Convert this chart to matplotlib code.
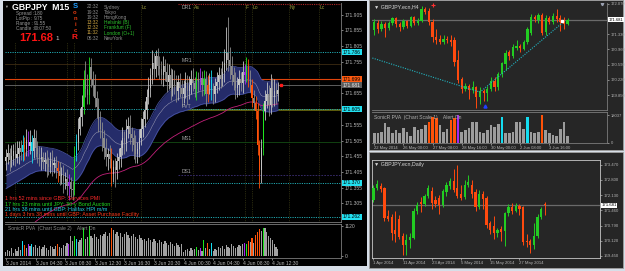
"""MT4 workspace: GBPJPY M15 Sonic R chart with H4 and Daily windows on the right."""

import numpy as np
import matplotlib
matplotlib.use("Agg")
import matplotlib.pyplot as plt
from matplotlib.patches import Rectangle
from matplotlib.transforms import blended_transform_factory

plt.rcParams["font.family"] = ["Liberation Sans", "DejaVu Sans"]

W, H = 625, 271

# ---------------- M15 window (price = 171 + value / 1000)
m15_open0 = 440
m15_close = [
    452, 464, 442, 457, 472, 450, 462, 482, 467,
    492, 477, 507, 487, 500, 472, 512, 482,
    462, 447, 452, 437, 444, 430, 422, 440, 427, 432, 417,
    407, 392, 400, 377, 382, 362, 372, 352, 347,
    459,
    500, 540, 580, 610, 697, 670, 650,
    738, 700, 680, 640, 610, 570, 540, 512,
    482, 452, 462, 447, 400, 420, 412, 440,
    452, 482, 512, 497, 542, 552, 527, 512,
    492, 462, 477, 512, 542, 572,
    602, 642, 672, 712, 752, 732, 772, 742,
    732, 712, 742, 722, 692, 712, 672, 702, 682, 662, 692, 672, 652,
    672, 692, 662, 682, 702, 687, 670, 700, 690, 705, 680,
    700, 652, 682, 697, 667, 652, 677, 692, 712, 702,
    722, 752, 782, 762, 742,
    712, 692, 672, 682, 702, 687, 722, 712, 740,
    700, 680, 640, 625, 600, 490,
    410, 480, 600,
    632, 652, 617, 672, 642, 662, 652, 667,
]
m15_wick_up = [
    25, 30, 18, 35, 22, 28, 40, 20, 26,
    30, 24, 35, 28, 38, 22, 30, 27,
    20, 26, 33, 18, 24, 30, 22, 28, 35, 19, 25,
    24, 30, 20, 28, 22, 34, 26, 18, 25,
    30,
    25, 35, 28, 40, 32, 60, 45,
    32, 30, 25, 35, 22, 30, 28, 24,
    26, 32, 20, 28, 35, 22, 30, 25,
    28, 24, 36, 22, 30, 27, 33, 20,
    25, 30, 22, 28, 35, 26,
    30, 28, 35, 24, 40, 30, 20, 28,
    30, 25, 33, 22, 28, 35, 24, 30, 26, 32, 22, 28, 25,
    24, 30, 22, 28, 26, 32, 20, 27, 24, 30, 22,
    28, 25, 30, 24, 32, 22, 26, 30, 28, 24,
    35, 45, 83, 115, 40,
    30, 26, 32, 24, 28, 22, 35, 25, 30,
    24, 28, 22, 26, 20, 24,
    18, 30, 25,
    35, 40, 28, 45, 32, 38, 26, 24,
]
m15_wick_dn = [
    28, 22, 35, 20, 30, 25, 18, 32, 24,
    26, 34, 22, 30, 25, 38, 24, 28,
    30, 24, 36, 22, 28, 40, 26, 20, 34, 25, 30,
    35, 28, 24, 38, 26, 30, 45, 28, 32,
    15,
    20, 24, 18, 30, 22, 26, 28,
    30, 25, 35, 28, 32, 38, 26, 40,
    35, 28, 42, 30, 38, 26, 55, 30,
    24, 30, 22, 35, 26, 28, 32, 40,
    45, 30, 28, 24, 22, 26,
    24, 28, 22, 30, 26, 32, 24, 28,
    30, 26, 35, 28, 32, 24, 38, 26, 30, 34, 28, 30, 36,
    28, 32, 40, 26, 30, 24, 28, 35, 30, 26, 32,
    30, 36, 25, 28, 34, 30, 26, 22, 28, 30,
    25, 30, 22, 35, 40,
    30, 26, 35, 28, 32, 24, 30, 26, 22,
    26, 22, 30, 24, 28, 30,
    56, 40, 20,
    30, 25, 35, 28, 30, 26, 32, 22,
]
m15_volume = [
    150, 220, 190, 300, 110, 260, 190, 330, 220,
    560, 410, 300, 450, 370, 450, 330, 410,
    300, 370, 260, 330, 410, 300, 220, 370, 330, 260, 370,
    450, 330, 300, 410, 370, 480, 450, 740, 560,
    740, 630, 520, 600, 670, 1050, 630, 700,
    1120, 740, 670, 820, 700, 630, 780, 740,
    820, 890, 740, 850, 1040, 960, 820, 890,
    740, 850, 700, 820, 890, 780, 670, 740, 820, 700, 630, 780, 670, 600,
    630, 560, 670, 600, 520, 630, 560, 480, 600, 520, 450, 560, 480, 410,
    520, 450, 370, 480, 410, 330, 450,
    150, 220, 260, 180, 300, 220, 260,
    330, 220, 300, 190, 600, 300, 480, 260, 480,
    190, 260, 220, 330, 300, 370, 260, 410, 330, 300, 450, 370, 300, 330,
    410, 370, 450,
    480, 450, 560, 520, 670, 480, 780, 890, 1000, 930, 1040, 1040, 890, 740,
    670, 600, 450, 330, 260,
]
m15_pva = {9: "c", 10: "o", 12: "m", 14: "c", 28: "o", 34: "m", 37: "g", 38: "c",
           42: "g", 45: "g", 57: "o", 103: "g", 105: "m", 107: "g", 109: "o",
           111: "c", 129: "m", 130: "g", 131: "o", 133: "o", 135: "o", 136: "o",
           137: "o", 139: "g"}
m15_tick_bars = [0, 16, 32, 48, 64, 80, 96, 112, 128, 144]
m15_tick_labels = ["3 Jun 2014", "3 Jun 04:30", "3 Jun 08:30", "3 Jun 12:30",
                   "3 Jun 16:30", "3 Jun 20:30", "4 Jun 00:30", "4 Jun 04:30",
                   "4 Jun 08:30", "4 Jun 12:30"]
m15_price_ticks = [171.305, 171.355, 171.405, 171.455, 171.505, 171.555, 171.655,
                   171.755, 171.805, 171.855, 171.905]
session_bars = [5, 33, 37, 57, 73, 101, 129, 133, 153, 169]
session_names = ["As", "F", "Lo", "Ny", "Lc", "As", "F", "Lo", "Ny", "Lc"]
dragon_seed = [427, 348, 389]      # EMA34 of high, low, close before the first bar
trend_seed = 140                   # EMA89 before the first bar
pivot_names = ["DR1", "MR1", "PVT", "MS1", "DS1"]
pivot_prices = [171.938, 171.748, 171.602, 171.500, 171.395]
cyan_levels = [171.786, 171.605, 171.370, 171.262]
ask_price = 171.699
bid_price = 171.681

info_labels = ["Spread :", "LotPip :", "Range :", "Candle :"]
info_values = ["1.80", "9.75", "91.55", "00:07:50"]
session_times = ["22:32", "19:32", "19:32", "13:32", "12:32", "11:32", "06:32"]
session_cities = ["Sydney", "Tokyo", "HongKong", "Helsinki (B)", "Frankfurt (F)",
                  "London (O+1)", "NewYork"]
session_open = [0, 0, 0, 1, 1, 1, 0]
news_lines = ["1 hrs 52 mins since GBP: Services PMI",
              "17 hrs 23 mins until JPY: 30-y Bond Auction",
              "21 hrs 38 mins until GBP: Halifax HPI m/m",
              "1 days 3 hrs 38 mins until GBP: Asset Purchase Facility"]

# ---------------- H4 window
h4_open = [171.43, 171.60, 171.45, 171.58, 171.48, 171.60, 171.72, 171.58, 171.50, 171.64,
           171.54, 171.74, 171.60, 171.66, 171.95, 171.90, 171.62, 171.25, 171.22, 171.15,
           171.22, 171.20, 171.18, 170.70, 170.25, 170.00, 170.08, 169.98, 170.05, 169.80,
           169.95, 169.90, 170.00, 170.20, 170.05, 170.35, 170.60, 170.90, 170.80, 171.00,
           171.05, 170.98, 171.15, 171.35, 171.75, 171.68, 171.80, 171.38, 171.72, 171.62,
           171.78, 171.72, 171.62, 171.58]
h4_high = [171.70, 171.68, 171.65, 171.62, 171.66, 171.76, 171.75, 171.62, 171.70, 171.68,
           171.78, 171.78, 171.72, 172.02, 172.00, 171.96, 171.70, 171.45, 171.30, 171.30,
           171.28, 171.30, 171.25, 170.95, 170.30, 170.15, 170.12, 170.20, 170.08, 170.05,
           170.00, 170.08, 170.30, 170.28, 170.40, 170.66, 170.95, 170.95, 171.08, 171.20,
           171.10, 171.20, 171.50, 171.82, 171.80, 171.84, 171.84, 171.80, 171.78, 171.84,
           171.95, 171.80, 171.75, 171.72]
h4_low = [171.30, 171.35, 171.40, 171.26, 171.44, 171.55, 171.50, 171.40, 171.46, 171.48,
          171.50, 171.55, 171.56, 171.62, 171.82, 171.55, 171.15, 171.10, 171.10, 171.08,
          171.12, 171.05, 170.55, 170.15, 169.90, 169.95, 169.75, 169.90, 169.53, 169.62,
          169.70, 169.70, 169.95, 169.95, 169.98, 170.30, 170.45, 170.70, 170.75, 170.95,
          170.90, 170.95, 171.10, 171.30, 171.62, 171.60, 171.30, 171.32, 171.58, 171.58,
          171.62, 171.40, 171.45, 171.55]
h4_close = [171.63, 171.45, 171.58, 171.48, 171.60, 171.72, 171.58, 171.50, 171.64, 171.54,
            171.74, 171.60, 171.66, 171.95, 171.88, 171.62, 171.25, 171.20, 171.15, 171.22,
            171.18, 171.14, 170.65, 170.22, 170.00, 170.08, 169.98, 170.05, 169.80, 169.95,
            169.90, 170.00, 170.20, 170.05, 170.35, 170.62, 170.88, 170.80, 171.02, 171.05,
            171.00, 171.15, 171.45, 171.75, 171.70, 171.80, 171.35, 171.72, 171.62, 171.78,
            171.70, 171.62, 171.58, 171.68]
h4_volume = [6400, 6300, 7000, 12700, 10600, 6400, 8500, 6400, 9500, 7400,
             4200, 10600, 8500, 9000, 11700, 13800, 17000, 15900, 11700, 7400,
             9000, 14800, 15900, 18000, 7400, 8500, 9500, 13800, 13800, 7400,
             6400, 8500, 11700, 10600, 12000, 17000, 6400, 6400, 7400, 13800,
             13800, 9000, 17000, 7400, 6400, 7400, 18000, 8500, 6400, 5300,
             4200, 9000, 13800, 4200]
h4_pva = {15: "o", 16: "o", 17: "o", 21: "o", 22: "o", 23: "m", 35: "c", 42: "c", 46: "o"}
h4_trend_bars = [-0.5, 29, 51.5]
h4_trend_prices = [170.75, 169.92, 171.60]
h4_tick_bars = [0, 8, 16, 24, 32, 40, 48]
h4_tick_labels = ["22 May 2014", "26 May 00:00", "27 May 08:00", "28 May 16:00",
                  "30 May 00:00", "2 Jun 08:00", "3 Jun 16:00"]
h4_price_ticks = [169.85, 170.22, 170.59, 170.96, 171.33, 172.07]

# ---------------- Daily window
d1_open = [171.92, 172.45, 172.55, 172.45, 171.20, 171.17, 170.60, 171.10, 170.35, 169.93,
           170.16, 170.25, 171.45, 171.85, 171.75, 172.10, 172.30, 171.90, 172.00, 171.70,
           172.25, 172.55, 172.75, 172.45, 172.20, 172.05, 172.60, 172.60, 172.25, 171.60,
           172.20, 172.00, 170.90, 170.75, 170.45, 170.65, 170.55, 171.35, 171.60, 171.45,
           171.65, 171.60, 170.10, 170.10, 169.95, 170.35, 171.15, 171.75]
d1_high = [172.60, 172.82, 172.65, 172.50, 171.48, 171.30, 171.45, 171.25, 170.45, 170.40,
           170.45, 171.55, 171.85, 172.05, 172.20, 172.60, 172.50, 172.10, 172.15, 172.40,
           172.70, 172.90, 173.30, 173.45, 172.60, 172.80, 173.00, 172.80, 172.40, 172.35,
           172.30, 172.10, 171.00, 171.20, 170.70, 170.75, 171.40, 171.75, 171.80, 171.80,
           171.75, 171.65, 170.40, 170.20, 170.90, 171.30, 171.60, 171.85]
d1_low = [171.85, 172.35, 172.25, 171.00, 171.00, 170.16, 170.05, 170.20, 169.49, 169.50,
          169.80, 170.20, 171.30, 171.40, 171.65, 172.00, 171.50, 171.60, 171.30, 171.60,
          172.10, 172.40, 172.25, 172.00, 171.90, 171.95, 172.50, 172.00, 171.45, 171.50,
          171.50, 170.70, 170.40, 170.20, 170.30, 170.10, 169.90, 171.20, 171.30, 171.40,
          171.25, 169.95, 169.85, 169.60, 169.75, 170.25, 171.10, 171.25]
d1_close = [172.45, 172.62, 172.40, 171.13, 171.10, 170.46, 170.40, 170.30, 169.93, 170.16,
            170.30, 171.45, 171.70, 171.75, 172.10, 172.45, 171.80, 171.75, 171.70, 172.30,
            172.60, 172.75, 172.35, 172.10, 172.00, 172.60, 172.72, 172.20, 171.60, 172.20,
            171.95, 170.80, 170.60, 170.45, 170.60, 170.50, 171.35, 171.60, 171.45, 171.65,
            171.50, 170.07, 170.05, 169.95, 170.35, 171.15, 171.50, 171.68]
d1_tick_bars = [0, 8, 16, 24, 32, 40]
d1_tick_labels = ["1 Apr 2014", "11 Apr 2014", "23 Apr 2014", "5 May 2014",
                  "15 May 2014", "27 May 2014"]
d1_price_ticks = [169.45, 170.12, 170.79, 171.46, 172.13, 172.80, 173.47]

PVA = {"g": "#1ee61e", "o": "#ff5208", "c": "#14dcf0", "m": "#a428f0"}
BULL, BEAR = "#22cc22", "#ff4a0e"
TICK = "#b4b4b4"
DARK = "#262626"

fig = plt.figure(figsize=(W / 100, H / 100), dpi=100, facecolor="#d7dee8")


def rect_px(x0, y0, x1, y1, fc, ec="none", lw=0.0):
    fig.patches.append(Rectangle((x0 / W, 1 - y1 / H), (x1 - x0) / W, (y1 - y0) / H,
                                 transform=fig.transFigure, fc=fc, ec=ec, lw=lw, zorder=-5))


def axes_px(x0, y0, x1, y1, fc, fs=3.6):
    ax = fig.add_axes([x0 / W, 1 - y1 / H, (x1 - x0) / W, (y1 - y0) / H])
    ax.set_facecolor(fc)
    for s in ax.spines.values():
        s.set_visible(False)
        s.set_color("#7c7c7c")
        s.set_linewidth(0.6)
    ax.tick_params(colors=TICK, labelsize=fs, length=1.5, width=0.5, pad=1)
    return ax


def text_px(x, y, s, **kw):
    kw.setdefault("va", "center")
    kw.setdefault("ha", "left")
    return fig.text(x / W, 1 - y / H, s, **kw)


def candles(ax, o, hi, lo, c, colors, width, lw=0.6, min_body=0.0):
    x = np.arange(len(c))
    ax.vlines(x, lo, hi, colors=colors, lw=lw, zorder=3)
    body = np.maximum(np.abs(c - o), min_body)
    ax.bar(x, body, width, bottom=np.minimum(o, c), color=colors, linewidth=0, zorder=4)


def ema(values, period, seed):
    k = 2.0 / (period + 1)
    out, prev = [], seed
    for v in values:
        prev = prev + k * (v - prev)
        out.append(prev)
    return np.array(out)


def price_box(ax, price, fc, tc="black", fs=3.6):
    tr = blended_transform_factory(ax.transAxes, ax.transData)
    ax.text(1.006, price, f"{price:.3f}", transform=tr, fontsize=fs, color=tc,
            va="center", ha="left", clip_on=False, zorder=10,
            bbox=dict(boxstyle="square,pad=0.15", fc=fc, ec="none"))


def right_ticks(ax, ticks, fmt="%.3f"):
    ax.yaxis.tick_right()
    ax.set_yticks(ticks)
    ax.yaxis.set_major_formatter(matplotlib.ticker.FormatStrFormatter(fmt))


def bottom_ticks(ax, bars, labels):
    ax.set_xticks(bars)
    ax.set_xticklabels(labels)
    for t in ax.get_xticklabels():
        t.set_horizontalalignment("left")


# ---------------- window frames
rect_px(3, 1, 367, 266, "black")
rect_px(369, 0, 623, 150, DARK, ec="#a0a0a0", lw=0.6)
rect_px(369, 152, 623, 268, DARK, ec="#a0a0a0", lw=0.6)

# ---------------- M15 price
c = 171 + np.array(m15_close) / 1000
o = np.concatenate([[171 + m15_open0 / 1000], c[:-1]])
hi = np.maximum(o, c) + np.array(m15_wick_up) / 1000
lo = np.minimum(o, c) - np.array(m15_wick_dn) / 1000
x = np.arange(len(c))
cols = [PVA[m15_pva[i]] if i in m15_pva else ("#c4c4c4" if c[i] >= o[i] else "#8c8c8c")
        for i in range(len(c))]

ax = axes_px(5, 3, 341, 222, "black")
ax.set_xlim(-0.5, 181.1)
ax.set_ylim(171.246, 171.942)

d_hi = ema(hi, 34, 171 + dragon_seed[0] / 1000)
d_lo = ema(lo, 34, 171 + dragon_seed[1] / 1000)
d_mid = ema(c, 34, 171 + dragon_seed[2] / 1000)
ax.fill_between(x, d_lo, d_hi, color="#252c6a", lw=0, zorder=1)
ax.plot(x, d_hi, color="#4b56a8", lw=0.5, zorder=1.5)
ax.plot(x, d_lo, color="#4b56a8", lw=0.5, zorder=1.5)
ax.plot(x, d_mid, color="#9c9cb4", lw=0.35, zorder=1.5)
ax.plot(x, ema(c, 89, 171 + trend_seed / 1000), color="#c2207a", lw=0.6, zorder=2)

ax.vlines(session_bars, 171.246, 171.942, colors="#4e4e1c", lw=0.5,
          linestyles=(0, (1, 1.6)), zorder=0.5)
for b, n in zip(session_bars, session_names):
    if b > 70:   # earlier labels sit under the info panel
        ax.text(b + 0.6, 171.935, n, fontsize=3.6, color="#9a9a3c", va="top", zorder=7)

for p in cyan_levels:
    ax.axhline(p, color="#1fa8b0", lw=0.7, ls=(0, (1.2, 1.2)), zorder=0.8)
    price_box(ax, p, "#22e0f0")
ax.axhline(pivot_prices[1], color="#3e2c12", lw=0.6, zorder=0.7)
ax.axhline(pivot_prices[3], color="#144c14", lw=0.6, zorder=0.7)
ax.hlines(pivot_prices[0], 93, 181.1, color="#b02424", lw=0.8, linestyles=(0, (1, 1)), zorder=0.8)
ax.hlines(pivot_prices[2], 93, 181.1, color="#6e6e10", lw=1.2, zorder=0.75)
ax.hlines(pivot_prices[4], 93, 181.1, color="#3e3078", lw=0.6, linestyles=(0, (2, 1.5)), zorder=0.8)
for n, p in zip(pivot_names, pivot_prices):
    ax.text(95, p + (-0.003 if n == "DR1" else 0.004), n, fontsize=3.6, color="#a8a8a8",
            va="top" if n == "DR1" else "bottom", zorder=8)
ax.axhline(ask_price, color="#e0440c", lw=0.8, zorder=0.9)
ax.axhline(bid_price, color="#6c6c6c", lw=0.6, zorder=0.9)

candles(ax, o, hi, lo, c, cols, 0.6, lw=0.6, min_body=0.0015)
ax.plot(len(c) + 0.6, bid_price, "s", color="#ff1a1a", ms=1.6, zorder=6)

# info panel background hides the chart under the top-left texts
ax.add_patch(Rectangle((0, 0.822), 0.396, 0.18, transform=ax.transAxes, fc="black",
                       ec="none", zorder=6))
price_box(ax, ask_price, "#ff5a10")
price_box(ax, bid_price, "#5c5c5c", tc="#e8e8e8")
right_ticks(ax, m15_price_ticks)
ax.set_xticks([])
ax.spines["right"].set_visible(True)
ax.spines["bottom"].set_visible(True)

# ---------------- M15 volume
axv = axes_px(5, 224, 341, 258, "black")
axv.bar(x, m15_volume, 0.62, color=[PVA[m15_pva[i]] if i in m15_pva else "#a2a2a2"
                                    for i in range(len(c))], linewidth=0)
axv.set_xlim(-0.5, 181.1)
axv.set_ylim(-75, 1195)
right_ticks(axv, [0, 1120], "%d")
bottom_ticks(axv, m15_tick_bars, m15_tick_labels)
axv.spines["right"].set_visible(True)
axv.spines["bottom"].set_visible(True)
axv.spines["top"].set_visible(True)
axv.text(0.008, 0.93, "SonicR PVA  (Chart Scale 2)    Alert On", transform=axv.transAxes,
         fontsize=3.6, color="#8c8c8c", va="top")

# ---------------- overlay texts on the M15 chart
text_px(4, 7, "▼", fontsize=2.8, color="#a0a0a0")
text_px(12.5, 7.5, "GBPJPY  M15", fontsize=6.3, color="white", fontweight="bold")
for k, (lab, val) in enumerate(zip(info_labels, info_values)):
    text_px(16, 13.5 + 5 * k, lab, fontsize=3.4, color="#9a9a9a")
    text_px(34, 13.5 + 5 * k, val, fontsize=3.4, color="#9a9a9a")
text_px(19, 38, "171.68", fontsize=8, color="#ff1414", fontweight="bold")
text_px(55, 39, "1", fontsize=4.5, color="#d0d0d0")
for k, ch in enumerate("Sonic"):
    text_px(75, 7 + 6 * k, ch, fontsize=5.5 if k == 0 else 4.2, ha="center",
            color="#1e9cff" if k == 0 else "#e03a10", fontweight="bold")
text_px(75, 37.5, "R", fontsize=6, ha="center", color="#ff1a1a", fontweight="bold")
for k, (t, city, op) in enumerate(zip(session_times, session_cities, session_open)):
    yy = 7 + 5.2 * k
    text_px(87, yy, t, fontsize=3.5, color="#c8a040" if op else "#8c8c8c")
    text_px(104, yy, city, fontsize=3.5, color="#2cc02c" if op else "#8c8c8c")
for k, (line, col) in enumerate(zip(news_lines, ["#ff2a2a", "#22dd22", "#22d0e8", "#ff3a1a"])):
    text_px(5, 199 + 5.3 * k, line, fontsize=3.9, color=col)

# ---------------- H4 window
ax4 = axes_px(372, 3, 607, 110, DARK, fs=3.0)
ax4.set_xlim(-0.6, 63.8)
ax4.set_ylim(169.485, 172.089)
h4o, h4c = np.array(h4_open), np.array(h4_close)
candles(ax4, h4o, np.array(h4_high), np.array(h4_low), h4c,
        [BULL if cc >= oo else BEAR for oo, cc in zip(h4o, h4c)], 0.62, lw=0.7, min_body=0.008)
ax4.plot(h4_trend_bars, h4_trend_prices, color="#22b4c0", lw=0.8, ls=(0, (1, 1.2)), zorder=5)
ax4.axhline(bid_price, color="#6a6a6a", lw=0.9, zorder=2)
ax4.plot(16, 172.03, "+", color="#ff3030", ms=2.5, mew=0.8, zorder=6)
ax4.plot(30.5, 169.58, "^", color="#2040ff", ms=2.2, zorder=6)
ax4.plot(51.6, 171.65, "s", color="white", ms=1.5, zorder=6)
ax4.plot(62.5, 172.06, "v", color="#9aa0b0", ms=1.8, zorder=6)
right_ticks(ax4, h4_price_ticks)
ax4.set_xticks([])
ax4.spines["right"].set_visible(True)
ax4.spines["bottom"].set_visible(True)
price_box(ax4, bid_price, "white", fs=3.0)
ax4.text(0.008, 0.985, "▼ GBPJPY.ecn,H4", transform=ax4.transAxes, fontsize=3.8,
         color="#d8d8d8", va="top")

ax4v = axes_px(372, 112, 607, 143, DARK, fs=3.0)
ax4v.bar(np.arange(len(h4_volume)), h4_volume, 0.72,
         color=[PVA[h4_pva[i]] if i in h4_pva else "#9c9c9c" for i in range(len(h4_volume))],
         linewidth=0)
ax4v.set_xlim(-0.6, 63.8)
ax4v.set_ylim(0, 19970)
right_ticks(ax4v, [0, 18037], "%d")
bottom_ticks(ax4v, h4_tick_bars, h4_tick_labels)
ax4v.spines["right"].set_visible(True)
ax4v.spines["bottom"].set_visible(True)
ax4v.spines["top"].set_visible(True)
ax4v.text(0.008, 0.9, "SonicR PVA  (Chart Scale 1)    Alert On", transform=ax4v.transAxes,
          fontsize=3.6, color="#b0b0b0", va="top")

# ---------------- Daily window
axd = axes_px(372, 160, 600, 258, DARK, fs=3.1)
axd.set_xlim(-0.4, 62.1)
axd.set_ylim(169.36, 173.68)
d1o, d1c = np.array(d1_open), np.array(d1_close)
candles(axd, d1o, np.array(d1_high), np.array(d1_low), d1c,
        [BULL if cc >= oo else BEAR for oo, cc in zip(d1o, d1c)], 0.62, lw=0.7, min_body=0.015)
axd.axhline(bid_price, color="#6a6a6a", lw=0.9, zorder=2)
right_ticks(axd, d1_price_ticks)
bottom_ticks(axd, d1_tick_bars, d1_tick_labels)
for s in axd.spines.values():
    s.set_visible(True)
    s.set_color("#c8c8c8")
price_box(axd, bid_price, "white", fs=3.1)
axd.text(0.008, 0.975, "▼ GBPJPY.ecn,Daily", transform=axd.transAxes, fontsize=3.8,
         color="#d8d8d8", va="top")

fig.savefig("out.png", dpi=100, facecolor=fig.get_facecolor())
